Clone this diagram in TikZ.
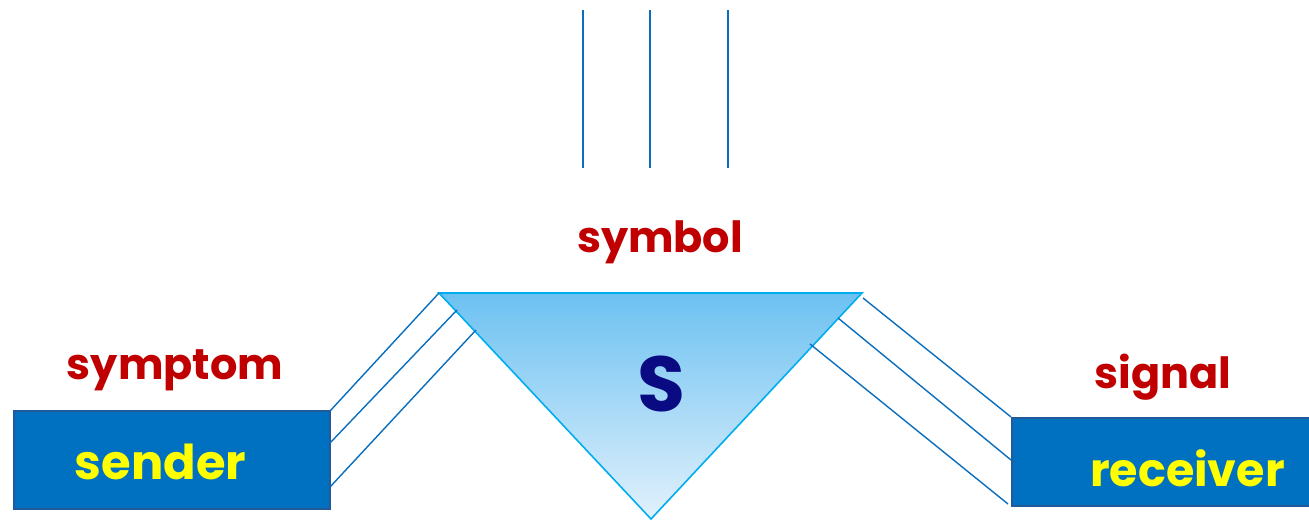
\documentclass[tikz,border=0pt]{standalone}
\usepackage{fontspec}
\setmainfont{Poppins}
\definecolor{lblred}{HTML}{C00000}
\definecolor{boxblue}{HTML}{0070C0}
\definecolor{boxedge}{HTML}{22599A}
\definecolor{linkblue}{HTML}{0A6EBE}
\definecolor{triedge}{HTML}{00AEEF}
\definecolor{tritop}{HTML}{6CC1F1}
\definecolor{tribot}{HTML}{E2F1FC}
\definecolor{sblue}{HTML}{0A0A82}
\definecolor{yel}{HTML}{FFFF00}
\tikzset{
  lbl/.style={inner sep=0pt, anchor=base, text=lblred, font=\fontsize{43}{50}\selectfont\bfseries},
  boxlbl/.style={inner sep=0pt, anchor=base, text=yel, font=\fontsize{46}{54}\selectfont\bfseries},
  agent/.style={draw=boxedge, fill=boxblue, line width=2.5pt},
  link/.style={draw=linkblue, line width=1.4pt},
}
\begin{document}
\begin{tikzpicture}[x=1pt,y=1pt]
\useasboundingbox (0,0) rectangle (1309,521);
% vertical lines
\coordinate (v1t) at (583,511); \coordinate (v1b) at (583,353);
\coordinate (v2t) at (650,511); \coordinate (v2b) at (650,353);
\coordinate (v3t) at (728,511); \coordinate (v3b) at (728,353);
\draw[link] (v1t) -- (v1b);
\draw[link] (v2t) -- (v2b);
\draw[link] (v3t) -- (v3b);
% triangle
\coordinate (tl) at (439,228);
\coordinate (tr) at (862,228);
\coordinate (tb) at (651,2);
\shade[top color=tritop, bottom color=tribot] (tl) -- (tr) -- (tb) -- cycle;
\draw[triedge, line width=1.6pt, line join=miter] (tl) -- (tr) -- (tb) -- cycle;
\node[inner sep=0pt, text=sblue, font=\fontsize{78}{90}\selectfont\bfseries] (S) at (661,137) {S};
% boxes
\path[agent] (14,12) rectangle (330,110);
\path[agent] (1012,15) rectangle (1315,103);
\coordinate (sendertr) at (330,110);
\node[boxlbl, font=\fontsize{48}{56}\selectfont\bfseries] (sender) at (160.5,41) {sender};
\node[boxlbl] (receiver) at (1187.5,34) {receiver};
% labels
\node[lbl] (symbol) at (660,268) {symbol};
\node[lbl] (symptom) at (175,141) {symptom};
\node[lbl] (signal) at (1163,132) {signal};
% left links
\coordinate (l2a) at (330,78);  \coordinate (l2b) at (457,211);
\coordinate (l3a) at (330,34);  \coordinate (l3b) at (476,191);
\draw[link] (sendertr) -- (tl);
\draw[link] (l2a) -- (l2b);
\draw[link] (l3a) -- (l3b);
% right links
\coordinate (r1a) at (863,223); \coordinate (r1b) at (1011,104);
\coordinate (r2a) at (838,203); \coordinate (r2b) at (1011,61);
\coordinate (r3a) at (810,177); \coordinate (r3b) at (1008,17);
\draw[link] (r1a) -- (r1b);
\draw[link] (r2a) -- (r2b);
\draw[link] (r3a) -- (r3b);
\end{tikzpicture}
\end{document}
